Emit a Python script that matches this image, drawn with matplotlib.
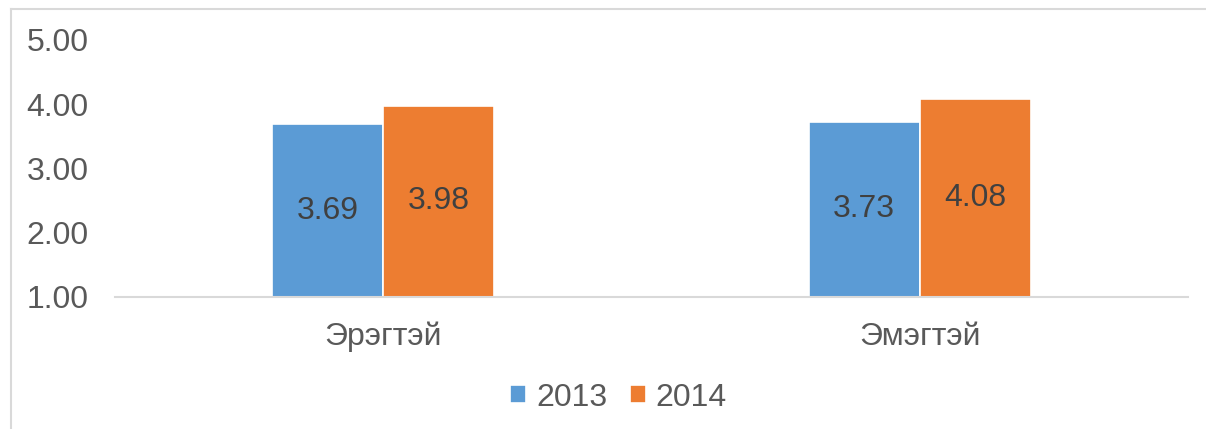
import matplotlib
matplotlib.use("Agg")
import matplotlib.pyplot as plt
from matplotlib.lines import Line2D
import numpy as np

categories = ["Эрэгтэй", "Эмэгтэй"]
series_names = ["2013", "2014"]
values_2013 = [3.69, 3.73]
values_2014 = [3.98, 4.08]
yticks = [1.00, 2.00, 3.00, 4.00, 5.00]

plt.rcParams['font.family'] = ['Liberation Sans', 'DejaVu Sans']

fig = plt.figure(figsize=(12.06, 4.29), dpi=100)
ax = fig.add_axes([0.0954, 0.3077, 0.8896, 0.5991])

x = np.arange(len(categories))
w = 0.207
colors = ["#5b9bd5", "#ed7d31"]
base = 1.0
fs = 23
b1 = ax.bar(x - w / 2, np.array(values_2013) - base, w, bottom=base, color=colors[0],
            edgecolor="white", linewidth=1.2, label=series_names[0])
b2 = ax.bar(x + w / 2, np.array(values_2014) - base, w, bottom=base, color=colors[1],
            edgecolor="white", linewidth=1.2, label=series_names[1])

for bars, vals in ((b1, values_2013), (b2, values_2014)):
    for rect, v in zip(bars, vals):
        ax.text(rect.get_x() + rect.get_width() / 2, (base + v) / 2, f"{v:.2f}",
                ha="center", va="center", fontsize=fs, color="#404040")

ax.set_xlim(-0.5, 1.5)
ax.set_ylim(1, 5)
ax.set_yticks(yticks)
ax.set_yticklabels([f"{t:.2f}" for t in yticks])
ax.set_xticks(x)
ax.set_xticklabels(categories)
ax.tick_params(axis="both", length=0, labelsize=fs, colors="#595959")
ax.tick_params(axis="y", pad=19)
ax.tick_params(axis="x", pad=18)
for s in ("top", "right", "left"):
    ax.spines[s].set_visible(False)
ax.spines["bottom"].set_color("#d9d9d9")
ax.spines["bottom"].set_linewidth(1.5)

leg = fig.legend(handles=[b1, b2], labels=series_names, loc="center",
                 bbox_to_anchor=(0.513, 0.073), ncol=2, frameon=False,
                 fontsize=fs, handlelength=0.5, handleheight=0.5,
                 handletextpad=0.3, columnspacing=0.72)
for t in leg.get_texts():
    t.set_color("#595959")

# chart-area border (top and left visible)
top_y = 1 - 8.5 / 429
left_x = 10.5 / 1206
fig.add_artist(Line2D([left_x, 1.0], [top_y, top_y], transform=fig.transFigure,
                      color="#d9d9d9", linewidth=1.5))
fig.add_artist(Line2D([left_x, left_x], [0.0, top_y], transform=fig.transFigure,
                      color="#d9d9d9", linewidth=1.5))

fig.savefig("out.png", dpi=100)
